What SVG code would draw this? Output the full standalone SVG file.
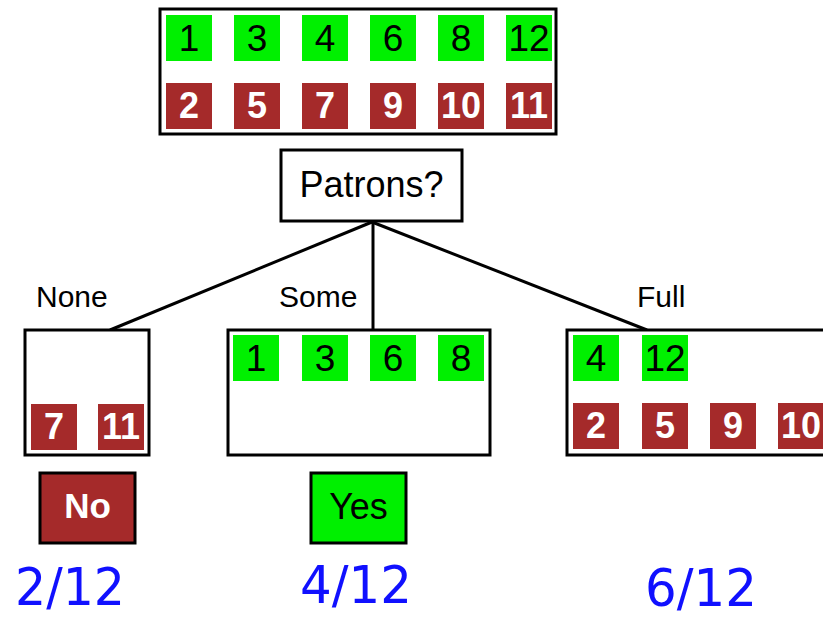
<svg xmlns="http://www.w3.org/2000/svg" width="823" height="618" viewBox="0 0 823 618">
  <style>
    .box { fill: #ffffff; stroke: #000000; stroke-width: 3; }
    .g { fill: #00f000; }
    .r { fill: #a52a2a; }
    .gt { font-family: "Liberation Sans", Arial, sans-serif; font-size: 37px; fill: #000000; text-anchor: middle; }
    .rt { font-family: "Liberation Sans", Arial, sans-serif; font-size: 36px; font-weight: bold; fill: #ffffff; text-anchor: middle; }
    .lbl { font-family: "Liberation Sans", Arial, sans-serif; font-size: 30px; fill: #000000; }
    .frac { font-family: "DejaVu Sans", sans-serif; font-size: 52px; fill: #1010ff; }
    .edge { stroke: #000000; stroke-width: 3; fill: none; }
  </style>

  <!-- all examples -->
  <g id="root-examples">
    <rect class="box" x="160" y="9" width="396" height="125"/>
    <rect class="g" x="166" y="15" width="46" height="46"/><text class="gt" x="189" y="51">1</text>
    <rect class="g" x="234" y="15" width="46" height="46"/><text class="gt" x="257" y="51">3</text>
    <rect class="g" x="302" y="15" width="46" height="46"/><text class="gt" x="325" y="51">4</text>
    <rect class="g" x="370" y="15" width="46" height="46"/><text class="gt" x="393" y="51">6</text>
    <rect class="g" x="438" y="15" width="46" height="46"/><text class="gt" x="461" y="51">8</text>
    <rect class="g" x="506" y="15" width="46" height="46"/><text class="gt" x="529" y="51">12</text>
    <rect class="r" x="166" y="83" width="46" height="46"/><text class="rt" x="189" y="118">2</text>
    <rect class="r" x="234" y="83" width="46" height="46"/><text class="rt" x="257" y="118">5</text>
    <rect class="r" x="302" y="83" width="46" height="46"/><text class="rt" x="325" y="118">7</text>
    <rect class="r" x="370" y="83" width="46" height="46"/><text class="rt" x="393" y="118">9</text>
    <rect class="r" x="438" y="83" width="46" height="46"/><text class="rt" x="461" y="118">10</text>
    <rect class="r" x="506" y="83" width="46" height="46"/><text class="rt" x="529" y="118">11</text>
  </g>

  <!-- attribute test -->
  <g id="patrons">
    <rect class="box" x="281" y="150" width="181" height="71"/>
    <text class="lbl" x="371.5" y="197" style="font-size:36px" text-anchor="middle">Patrons?</text>
  </g>

  <!-- branches -->
  <g id="connectors">
    <line class="edge" x1="372" y1="222" x2="110" y2="330"/>
    <line class="edge" x1="373" y1="222" x2="373" y2="330"/>
    <line class="edge" x1="372" y1="222" x2="647" y2="330"/>
    <text class="lbl" x="36" y="307">None</text>
    <text class="lbl" x="279" y="307">Some</text>
    <text class="lbl" x="637" y="307">Full</text>
  </g>

  <g id="none-branch">
    <rect class="box" x="25" y="330" width="124" height="125"/>
    <rect class="r" x="31" y="404" width="46" height="46"/><text class="rt" x="54" y="439">7</text>
    <rect class="r" x="98" y="404" width="46" height="46"/><text class="rt" x="121" y="439">11</text>
  </g>

  <g id="some-branch">
    <rect class="box" x="228" y="330" width="262" height="125"/>
    <rect class="g" x="233" y="335" width="46" height="46"/><text class="gt" x="256" y="371">1</text>
    <rect class="g" x="302" y="335" width="46" height="46"/><text class="gt" x="325" y="371">3</text>
    <rect class="g" x="370" y="335" width="46" height="46"/><text class="gt" x="393" y="371">6</text>
    <rect class="g" x="438" y="335" width="46" height="46"/><text class="gt" x="461" y="371">8</text>
  </g>

  <g id="full-branch">
    <rect class="box" x="567" y="330" width="300" height="125"/>
    <rect class="g" x="573" y="335" width="46" height="46"/><text class="gt" x="596" y="371">4</text>
    <rect class="g" x="642" y="335" width="46" height="46"/><text class="gt" x="665" y="371">12</text>
    <rect class="r" x="573" y="403" width="46" height="46"/><text class="rt" x="596" y="438">2</text>
    <rect class="r" x="642" y="403" width="46" height="46"/><text class="rt" x="665" y="438">5</text>
    <rect class="r" x="710" y="403" width="46" height="46"/><text class="rt" x="733" y="438">9</text>
    <rect class="r" x="778" y="403" width="46" height="46"/><text class="rt" x="801" y="438">10</text>
  </g>

  <!-- leaf decisions -->
  <g id="leaf-no">
    <rect x="40" y="473" width="95" height="70" fill="#a52a2a" stroke="#000" stroke-width="3"/>
    <text class="rt" x="87.5" y="518" style="font-size:35px">No</text>
  </g>
  <g id="leaf-yes">
    <rect x="311" y="473" width="95" height="70" fill="#00f000" stroke="#000" stroke-width="3"/>
    <text class="gt" x="358.5" y="519" style="font-size:36px">Yes</text>
  </g>

  <!-- branch proportions -->
  <g id="fractions">
    <text class="frac" x="15" y="605" textLength="110" lengthAdjust="spacingAndGlyphs">2/12</text>
    <text class="frac" x="300" y="603" textLength="112" lengthAdjust="spacingAndGlyphs">4/12</text>
    <text class="frac" x="645" y="606" textLength="112" lengthAdjust="spacingAndGlyphs">6/12</text>
  </g>
</svg>
